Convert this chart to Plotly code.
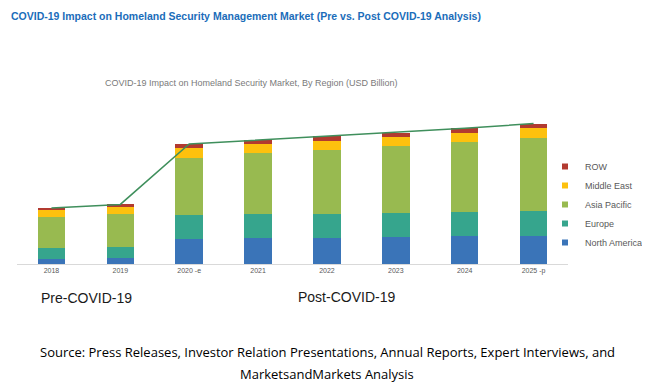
import plotly.graph_objects as go

years = ["2018", "2019", "2020 -e", "2021", "2022", "2023", "2024", "2025 -p"]
north_america = [5.0, 6.0, 25.3, 26.3, 26.0, 27.0, 28.3, 28.3]
europe = [11.3, 11.3, 23.3, 23.7, 24.3, 24.0, 23.7, 24.7]
asia_pacific = [30.7, 32.3, 57.7, 60.7, 63.3, 66.7, 69.7, 73.0]
middle_east = [7.0, 7.3, 9.7, 9.3, 9.7, 9.3, 9.3, 9.7]
row = [2.0, 2.7, 4.0, 4.0, 4.3, 4.3, 4.7, 4.7]

series = [
    ("North America", north_america, "#3a74b8"),
    ("Europe", europe, "#36a58d"),
    ("Asia Pacific", asia_pacific, "#98ba50"),
    ("Middle East", middle_east, "#fdc10e"),
    ("ROW", row, "#b23a30"),
]

totals = [sum(v) for v in zip(north_america, europe, asia_pacific, middle_east, row)]

fig = go.Figure()
for name, vals, col in series:
    fig.add_trace(go.Bar(x=years, y=vals, name=name, marker=dict(color=col, line=dict(width=0)),
                         showlegend=False))

fig.add_trace(go.Scatter(x=years, y=totals, mode="lines", line=dict(color="#3f8f5c", width=1.5),
                         showlegend=False, hoverinfo="skip"))

# legend entries (small square swatches)
for name, vals, col in series:
    fig.add_trace(go.Scatter(x=[years[0]], y=[None], mode="markers", name=name,
                             marker=dict(symbol="square", size=6, color=col)))

# page body has an 8px margin: work in reference-window coordinates
O = 8
W, H = 650 - O, 389 - O
L, R, T, B = 17 - O, 650 - 568, 100 - O, 389 - 264
pw, ph = W - L - R, H - T - B

def px(x):
    return (x - O - L) / pw

def py(y):
    return (H - B - (y - O)) / ph

fig.update_layout(
    barmode="stack",
    bargap=0.6,
    width=W, height=H,
    margin=dict(l=L, r=R, t=T, b=B, autoexpand=False),
    plot_bgcolor="white", paper_bgcolor="white",
    font=dict(family="Liberation Sans, Arial, sans-serif", color="#595959"),
    xaxis=dict(showgrid=False, showline=True, linecolor="#d9d9d9", linewidth=1,
               ticks="", tickfont=dict(size=7, color="#595959"), fixedrange=True),
    yaxis=dict(range=[0, ph], visible=False, showgrid=False, zeroline=False),
    legend=dict(x=px(545), xanchor="left", y=py(204.5), yanchor="middle", traceorder="reversed",
                font=dict(size=9, color="#595959"), itemwidth=30, tracegroupgap=0,
                bgcolor="rgba(0,0,0,0)"),
    showlegend=True,
)

fig.add_annotation(text="<b>COVID-19 Impact on Homeland Security Management Market (Pre vs. Post COVID-19 Analysis)</b>",
                   xref="paper", yref="paper", x=px(9), y=py(8), xanchor="left", yanchor="top",
                   showarrow=False, font=dict(size=10.5, color="#1b6dba"))
fig.add_annotation(text="COVID-19 Impact on Homeland Security Market, By Region (USD Billion)",
                   xref="paper", yref="paper", x=px(251.5), y=py(83),
                   xanchor="center", yanchor="middle", showarrow=False,
                   font=dict(size=9, color="#7a7a7a"))
fig.add_annotation(text="Pre-COVID-19", xref="paper", yref="paper",
                   x=px(86), y=py(298), xanchor="center", yanchor="middle",
                   showarrow=False, font=dict(size=14, color="#1a1a1a"))
fig.add_annotation(text="Post-COVID-19", xref="paper", yref="paper",
                   x=px(346), y=py(297), xanchor="center", yanchor="middle",
                   showarrow=False, font=dict(size=14, color="#1a1a1a"))
fig.add_annotation(text="Source: Press Releases, Investor Relation Presentations, Annual Reports, Expert Interviews, and",
                   xref="paper", yref="paper", x=px(327), y=py(352),
                   xanchor="center", yanchor="middle", showarrow=False,
                   font=dict(size=13, color="#000000", family="Open Sans, Liberation Sans"))
fig.add_annotation(text="MarketsandMarkets Analysis",
                   xref="paper", yref="paper", x=px(327), y=py(374),
                   xanchor="center", yanchor="middle", showarrow=False,
                   font=dict(size=13, color="#000000", family="Open Sans, Liberation Sans"))

fig.write_html("out.html")
